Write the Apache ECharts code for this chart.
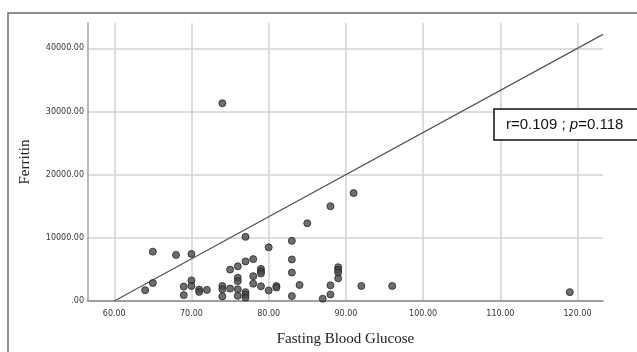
<!DOCTYPE html>
<html lang="en">
<head>
    <meta charset="UTF-8">
    <title>Ferritin vs Fasting Blood Glucose</title>
    <script src="https://cdn.jsdelivr.net/npm/echarts@6/dist/echarts.min.js"></script>
    <style>
        html, body { margin: 0; padding: 0; background: #fff; }
    </style>
</head>
<body>
    <div id="main" style="width: 637px;height:352px;"></div>
    <script>
        // glucose / ferritin pairs
        var glucose = [64, 65, 65, 68, 69, 69, 70, 70, 70, 71, 71, 72,
            74, 74, 74, 74, 75, 75, 76, 76, 76, 76, 76,
            77, 77, 77, 77, 77, 78, 78, 78, 79, 79, 79, 79,
            80, 80, 81, 81, 83, 83, 83, 83, 84, 85, 87,
            88, 88, 88, 89, 89, 89, 89, 91, 92, 96, 119];
        var ferritin = [1710, 7810, 2840, 7300, 2280, 930, 7450, 3260, 2380, 1810, 1440, 1760,
            31300, 2380, 1860, 730, 4970, 1970, 5490, 3680, 3150, 1860, 820,
            10150, 6260, 1400, 990, 530, 6630, 3930, 2750, 5080, 4700, 4350, 2330,
            8490, 1660, 2380, 2120, 9520, 6570, 4500, 780, 2530, 12300, 360,
            15000, 2480, 1040, 5350, 4940, 4520, 3590, 17080, 2380, 2380, 1400];

        // reference line drawn in the figure
        var lineX = [60, 123.3];
        var lineY = [0, 42200];

        var xTicks = [60, 70, 80, 90, 100, 110, 120];
        var yTicks = [0, 10000, 20000, 30000, 40000];

        var points = [];
        for (var i = 0; i < glucose.length; i++) {
            points.push([glucose[i], ferritin[i]]);
        }
        var fitLine = [];
        for (var j = 0; j < lineX.length; j++) {
            fitLine.push([lineX[j], lineY[j]]);
        }

        function fmt(v) {
            return v === 0 ? '.00' : v.toFixed(2);
        }

        var myChart = echarts.init(document.getElementById('main'));

        var option = {
            animation: false,
            backgroundColor: '#fff',
            grid: { left: 88, right: 34, top: 23, bottom: 45 },
            xAxis: {
                type: 'value',
                min: 56.6,
                max: 123.3,
                name: 'Fasting Blood Glucose',
                nameLocation: 'middle',
                nameGap: 31,
                nameTextStyle: { fontFamily: 'Liberation Serif', fontSize: 15, color: '#222' },
                axisLine: { lineStyle: { color: '#8a8a8a', width: 1.5 } },
                axisTick: { show: false, customValues: xTicks },
                axisLabel: {
                    customValues: xTicks,
                    formatter: fmt,
                    fontFamily: 'DejaVu Sans',
                    fontSize: 8,
                    color: '#333',
                    margin: 9
                },
                splitLine: { show: true, lineStyle: { color: '#d2d2d2', width: 1.5 } }
            },
            yAxis: {
                type: 'value',
                min: 0,
                max: 44000,
                name: 'Ferritin',
                nameLocation: 'middle',
                nameGap: 55,
                nameTextStyle: { fontFamily: 'Liberation Serif', fontSize: 15, color: '#222' },
                axisLine: { show: true, lineStyle: { color: '#a0a0a0', width: 1.5 } },
                axisTick: { show: false, customValues: yTicks },
                axisLabel: {
                    customValues: yTicks,
                    formatter: fmt,
                    fontFamily: 'DejaVu Sans',
                    fontSize: 8,
                    color: '#333',
                    margin: 4
                },
                splitLine: { show: true, lineStyle: { color: '#d2d2d2', width: 1.5 } }
            },
            series: [
                {
                    type: 'scatter',
                    data: points,
                    symbolSize: 7,
                    itemStyle: { color: '#4a4a4a', borderColor: '#262626', borderWidth: 1 },
                    z: 3
                },
                {
                    type: 'line',
                    data: fitLine,
                    symbol: 'none',
                    lineStyle: { color: '#555', width: 1.2 },
                    z: 2
                }
            ],
            graphic: [
                {
                    type: 'rect',
                    shape: { x: 8, y: 13, width: 640, height: 350 },
                    style: { fill: null, stroke: '#6a6a6a', lineWidth: 1.5 },
                    silent: true
                },
                {
                    type: 'rect',
                    shape: { x: 494, y: 109, width: 150, height: 31 },
                    style: { fill: '#fff', stroke: '#111', lineWidth: 1.5 },
                    z: 10
                },
                {
                    type: 'text',
                    x: 506,
                    y: 125,
                    z: 11,
                    style: {
                        text: '{a|r=0.109 ; }{i|p}{a|=0.118}',
                        verticalAlign: 'middle',
                        rich: {
                            a: { fontFamily: 'Liberation Sans', fontSize: 15, fill: '#111' },
                            i: { fontFamily: 'Liberation Sans', fontSize: 15, fontStyle: 'italic', fill: '#111' }
                        }
                    }
                }
            ]
        };
        myChart.setOption(option);
    </script>
</body>
</html>
